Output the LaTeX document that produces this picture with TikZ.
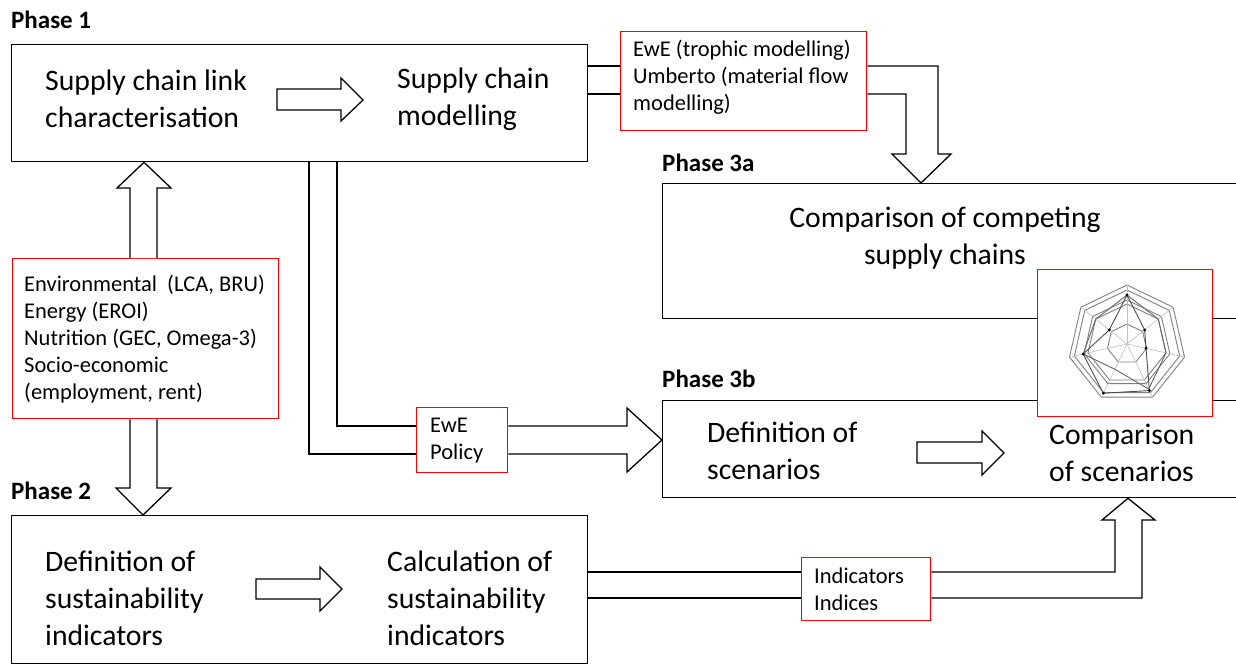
\documentclass[tikz,border=0pt]{standalone}
\usepackage{fontspec}
\setmainfont{Carlito}
\usetikzlibrary{positioning}

\tikzset{
    phasebox/.style={draw, line width=1.3pt},
    toolbox/.style={draw=red, line width=1.3pt, fill=white},
    flow/.style={draw, line width=1.3pt, fill=white, line join=miter},
    bigtext/.style={font=\fontsize{29.7}{37}\selectfont, align=left, inner sep=0pt},
    smalltext/.style={font=\fontsize{22.5}{27}\selectfont, align=left, inner sep=0pt},
    phaselabel/.style={font=\fontsize{25}{28}\selectfont\bfseries, inner sep=0pt, anchor=west},
}

\begin{document}
\begin{tikzpicture}[x=1pt, y=-1pt]
    \clip (0,0) rectangle (1236,664);

    % phase 1
    \node[phaselabel] (lab1) at (11,20) {Phase 1};
    \node[phasebox, anchor=north west, minimum width=576pt, minimum height=117pt] (ph1) at (11,44) {};
    \node[bigtext, anchor=west] (link) at (45,99) {Supply chain link\\characterisation};
    \node[bigtext, anchor=west] (model) at (397,99) {Supply chain\\modelling};
    \draw[flow] (277,89) -- (341,89) -- (341,78) -- (363,100) -- (341,121) -- (341,110) -- (277,110) -- cycle;

    % phase 2
    \node[phaselabel] (lab2) at (11,491) {Phase 2};
    \node[phasebox, anchor=north west, minimum width=576pt, minimum height=148pt] (ph2) at (11,515) {};
    \node[bigtext, anchor=west] (defind) at (45,598) {Definition of\\sustainability\\indicators};
    \node[bigtext, anchor=west] (calcind) at (387,598) {Calculation of\\sustainability\\indicators};
    \draw[flow] (256,579) -- (320,579) -- (320,567) -- (342,589) -- (320,611) -- (320,599) -- (256,599) -- cycle;

    % phase 3a
    \node[phaselabel] (lab3a) at (662,163) {Phase 3a};
    \node[phasebox, anchor=north west, minimum width=620pt, minimum height=135pt] (ph3a) at (662,183) {};
    \node[bigtext, align=center] (compsc) at (945,238) {Comparison of competing\\supply chains};

    % phase 3b
    \node[phaselabel] (lab3b) at (662,379) {Phase 3b};
    \node[phasebox, anchor=north west, minimum width=620pt, minimum height=97pt] (ph3b) at (662,400) {};
    \node[bigtext, anchor=west] (defsc) at (707,451) {Definition of\\scenarios};
    \node[bigtext, anchor=west] (compsn) at (1049,453) {Comparison\\of scenarios};
    \draw[flow] (917,442) -- (982,442) -- (982,431) -- (1004,453) -- (982,475) -- (982,463) -- (917,463) -- cycle;

    % indicator list
    \node[toolbox, anchor=north west, minimum width=266pt, minimum height=160pt] (env) at (12,258) {};
    \node[smalltext, anchor=west] (envtxt) at (24,339) {Environmental~ (LCA, BRU)\\Energy (EROI)\\Nutrition (GEC, Omega-3)\\Socio-economic\\(employment, rent)};
    \draw[flow] (130,0 |- env.north) -- (130,188) -- (117,188) -- (144,0 |- ph1.south) -- (171,188) -- (157,188) -- (157,0 |- env.north);
    \draw[flow] (130,0 |- env.south) -- (130,488) -- (116,488) -- (143,0 |- ph2.north) -- (171,488) -- (157,488) -- (157,0 |- env.south);

    % modelling tools
    \node[toolbox, anchor=north west, minimum width=246pt, minimum height=99pt] (tools) at (620,31) {};
    \node[smalltext, anchor=west] (toolstxt) at (633,77) {EwE (trophic modelling)\\Umberto (material flow\\modelling)};
    \draw[flow] (ph1.east |- 0,66) -- (tools.west |- 0,66);
    \draw[flow] (ph1.east |- 0,94) -- (tools.west |- 0,94);
    \draw[flow] (tools.east |- 0,66) -- (938,66) -- (938,154) -- (951,154) -- (921,0 |- ph3a.north) -- (892,154) -- (906,154) -- (906,94) -- (tools.east |- 0,94);

    % policy
    \node[toolbox, anchor=north west, minimum width=91pt, minimum height=65pt] (policy) at (416,407) {};
    \node[smalltext, anchor=west] (policytxt) at (430,441) {EwE\\Policy};
    \draw[flow] (309,0 |- ph1.south) -- (309,454) -- (policy.west |- 0,454);
    \draw[flow] (337,0 |- ph1.south) -- (337,426) -- (policy.west |- 0,426);
    \draw[flow] (policy.east |- 0,426) -- (627,426) -- (627,408) -- (ph3b.west |- 0,440) -- (627,472) -- (627,454) -- (policy.east |- 0,454);

    % indicators
    \node[toolbox, anchor=north west, minimum width=129pt, minimum height=63pt] (ind) at (801,557) {};
    \node[smalltext, anchor=west] (indtxt) at (814,589) {Indicators\\Indices};
    \draw[flow] (ph2.east |- 0,572) -- (ind.west |- 0,572);
    \draw[flow] (ph2.east |- 0,598) -- (ind.west |- 0,598);
    \draw[flow] (ind.east |- 0,572) -- (1115,572) -- (1115,520) -- (1102,520) -- (1128,0 |- ph3b.south) -- (1155,520) -- (1142,520) -- (1142,598) -- (ind.east |- 0,598);

    % radar chart
    \node[toolbox, anchor=north west, minimum width=175pt, minimum height=147pt] (radar) at (1037,269) {};
    \begin{scope}[shift={(1127,344)}, y=1pt]
        \foreach \r in {59,54,44,40,20}
            \draw[gray, line width=0.9pt] (90:\r) \foreach \k in {1,...,6} {-- (90-\k*51.43:\r)} -- cycle;
        \foreach \k in {0,...,6}
            \draw[gray!50, line width=0.6pt] (0,0) -- (90-\k*51.43:59);
        \draw[black!70, line width=0.9pt] (90:49) -- (38.57:22.6) -- (-12.86:19.5) -- (-64.29:51.7) -- (-115.71:54.6) -- (-167.14:45) -- (141.43:22.6) -- cycle;
        \draw[black!60, line width=0.9pt] (90:49) -- (38.57:40) -- (-12.86:40) -- (-64.29:50) -- (-115.71:28) -- (-167.14:45) -- (141.43:40) -- cycle;
        \foreach \a/\r in {90/49, 38.57/22.6, -12.86/19.5, -64.29/51.7, -115.71/54.6, -167.14/45, 141.43/22.6}
            \fill[black] (\a:\r) circle (1.6pt);
    \end{scope}
\end{tikzpicture}
\end{document}
